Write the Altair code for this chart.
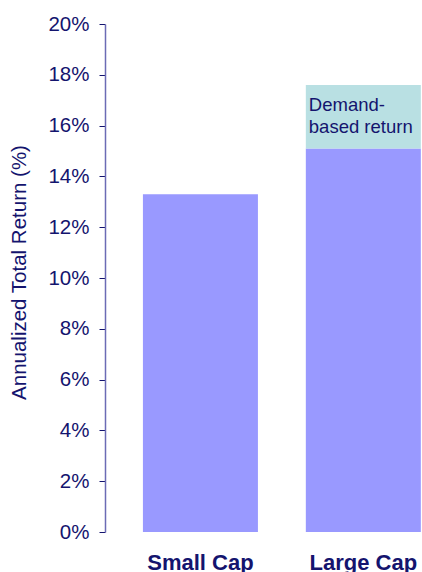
import altair as alt
import pandas as pd

categories = ["Small Cap", "Large Cap", "Large Cap"]
segments = ["Base return", "Base return", "Demand-based return"]
values = [13.3, 15.1, 2.5]
seg_order = [0, 0, 1]
y_ticks = [0, 2, 4, 6, 8, 10, 12, 14, 16, 18, 20]

label_cat = ["Large Cap"]
label_y = [17.6]
label_text = [["Demand-", "based return"]]

NAVY = "#14146e"
FONT = "Liberation Sans"

df = pd.DataFrame({"category": categories, "segment": segments,
                   "value": values, "ord": seg_order})
lab = pd.DataFrame({"category": label_cat, "y": label_y, "text": label_text})

x_scale = alt.Scale(domain=["Small Cap", "Large Cap"], paddingInner=0.294,
                    paddingOuter=0.12, align=0.97)
y_scale = alt.Scale(domain=[0, 20], nice=False)

bars = alt.Chart(df).mark_bar().encode(
    x=alt.X("category:N", scale=x_scale, sort=["Small Cap", "Large Cap"],
            axis=alt.Axis(title=None, labelAngle=0, domain=False, ticks=False,
                          tickSize=0, labelPadding=37, labelBaseline="alphabetic",
                          labelFont=FONT, labelFontSize=22, labelFontWeight="bold",
                          labelColor=NAVY)),
    y=alt.Y("value:Q", stack="zero", scale=y_scale,
            axis=alt.Axis(title="Annualized Total Return (%)", values=y_ticks,
                          labelExpr="datum.value + '%'", grid=False,
                          labelFont=FONT, labelFontSize=20.5, labelColor=NAVY,
                          labelPadding=10, tickSize=6, tickColor=NAVY, tickWidth=1,
                          domainColor="#6b6bb5", domainWidth=1.5,
                          titleFont=FONT, titleFontSize=20.5, titleFontWeight="normal",
                          titleColor=NAVY, titleAngle=-90, titleBaseline="alphabetic",
                          titleX=-80, titleY=248, titleAlign="center")),
    color=alt.Color("segment:N", legend=None,
                    scale=alt.Scale(domain=["Base return", "Demand-based return"],
                                    range=["#9999ff", "#b9e0e3"])),
    order=alt.Order("ord:Q"),
)

text = alt.Chart(lab).mark_text(align="left", baseline="alphabetic", dx=3, dy=25.7,
                                font=FONT, fontSize=18.5, lineHeight=22.5,
                                color=NAVY).encode(
    x=alt.X("category:N", scale=x_scale, bandPosition=0),
    y=alt.Y("y:Q", scale=y_scale),
    text="text",
)

chart = alt.layer(bars, text).properties(
    width=317, height=508,
    autosize=alt.AutoSizeParams(type="none"),
    padding={"left": 105, "top": 24, "right": 0, "bottom": 40},
    background="white",
).configure_view(stroke=None)

chart.save("out.html", embed_options={"renderer": "svg", "actions": False})
